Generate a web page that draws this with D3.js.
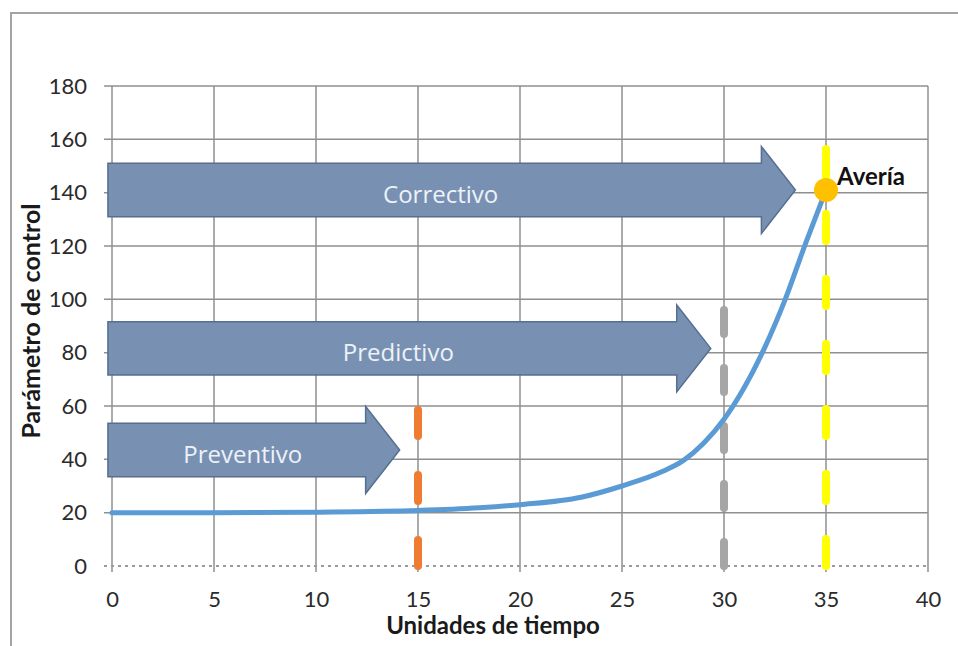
<!DOCTYPE html>
<html>
<head>
<meta charset="utf-8">
<script src="https://cdn.jsdelivr.net/npm/d3@7"></script>
<style>
  html, body { margin: 0; padding: 0; background: #ffffff; }
  svg { display: block; }
</style>
</head>
<body>
<svg id="chart" width="958" height="646"></svg>
<script>
// Axis ticks
const xTicks = [0, 5, 10, 15, 20, 25, 30, 35, 40];
const yTicks = [0, 20, 40, 60, 80, 100, 120, 140, 160, 180];

// Control parameter over time (smoothed curve)
const curveTime  = [0, 5, 10, 15, 18, 20, 23, 25, 27, 28, 29, 30, 31, 32, 33, 34, 35];
const curveValue = [20, 20, 20.2, 20.8, 21.8, 23, 25.8, 30, 35.5, 39.5, 46, 55, 67, 82, 100, 121, 141];

// Maintenance strategies: arrow start/tip times and level
const strategyNames  = ["Preventivo", "Predictivo", "Correctivo"];
const strategyStart  = [-0.2, -0.2, -0.2];
const strategyTip    = [14.1, 29.35, 33.5];
const strategyLevel  = [43.5, 81.6, 141];

// Intervention markers (vertical dashed lines)
const markerTime = [15, 30, 35];
const markerTop  = [60, 98, 162];

// Failure point
const failureTime = 35;
const failureValue = 141;
const failureLabel = "Avería";

const xTitle = "Unidades de tiempo";
const yTitle = "Parámetro de control";

const svg = d3.select("#chart");
const W = 958, H = 646;
const plot = { left: 112, right: 928, top: 86, bottom: 566 };

const x = d3.scaleLinear().domain([0, 40]).range([plot.left, plot.right]);
const y = d3.scaleLinear().domain([0, 180]).range([plot.bottom, plot.top]);

const gridColor = "#8f8f8f";
const tickFont = "Lato, 'Open Sans', sans-serif";

// Outer frame
svg.append("path")
  .attr("d", `M11,${H} L11,13 L${W},13`)
  .attr("fill", "none")
  .attr("stroke", "#a3a3a3")
  .attr("stroke-width", 2);

// Horizontal gridlines (with outward tick)
svg.append("g").selectAll("line")
  .data(yTicks.filter(d => d > 0))
  .join("line")
  .attr("x1", plot.left - 8).attr("x2", plot.right)
  .attr("y1", d => y(d)).attr("y2", d => y(d))
  .attr("stroke", gridColor).attr("stroke-width", 1.5);

// Vertical gridlines (with outward tick)
svg.append("g").selectAll("line")
  .data(xTicks)
  .join("line")
  .attr("x1", d => x(d)).attr("x2", d => x(d))
  .attr("y1", plot.top).attr("y2", plot.bottom + 6)
  .attr("stroke", gridColor).attr("stroke-width", 1.5);

// Zero baseline, dotted
svg.append("line")
  .attr("x1", plot.left - 8).attr("x2", plot.right)
  .attr("y1", y(0)).attr("y2", y(0))
  .attr("stroke", "#9a9a9a").attr("stroke-width", 2)
  .attr("stroke-dasharray", "3,4");

// Tick labels via d3 axes
const yAxis = d3.axisLeft(y).tickValues(yTicks).tickSize(0).tickPadding(25);
const gy = svg.append("g").attr("transform", `translate(${plot.left},0)`).call(yAxis);
gy.select(".domain").remove();
gy.selectAll("text")
  .attr("font-family", tickFont)
  .attr("font-size", 22).attr("fill", "#2b2b2b");

const xAxis = d3.axisBottom(x).tickValues(xTicks).tickSize(0).tickPadding(25);
const gx = svg.append("g").attr("transform", `translate(0,${plot.bottom})`).call(xAxis);
gx.select(".domain").remove();
gx.selectAll("text")
  .attr("font-family", tickFont)
  .attr("font-size", 22).attr("fill", "#2b2b2b");

// Axis titles
svg.append("text")
  .attr("x", 493).attr("y", 634)
  .attr("text-anchor", "middle")
  .attr("font-family", "Lato, sans-serif")
  .attr("font-weight", 700).attr("font-size", 24)
  .attr("fill", "#1a1a1a")
  .text(xTitle);

svg.append("text")
  .attr("transform", `translate(40,${(plot.top + plot.bottom) / 2 - 5}) rotate(-90)`)
  .attr("text-anchor", "middle")
  .attr("font-family", "Lato, sans-serif")
  .attr("font-weight", 700).attr("font-size", 25)
  .attr("fill", "#1a1a1a")
  .text(yTitle);

// Intervention markers
const markerColors = ["#ee7d31", "#a6a6a6", "#ffff00"];
const markerDash = ["26,39", "24,34", "27,38"];
svg.append("g").selectAll("line")
  .data(markerTime)
  .join("line")
  .attr("x1", d => x(d)).attr("x2", d => x(d))
  .attr("y1", y(0)).attr("y2", (d, i) => y(markerTop[i]))
  .attr("stroke", (d, i) => markerColors[i])
  .attr("stroke-width", 8)
  .attr("stroke-linecap", "round")
  .attr("stroke-dasharray", (d, i) => markerDash[i]);

// Control parameter curve
const points = curveTime.map((t, i) => [t, curveValue[i]]);
const line = d3.line()
  .x(d => x(d[0])).y(d => y(d[1]))
  .curve(d3.curveMonotoneX);
svg.append("path")
  .datum(points)
  .attr("d", line)
  .attr("fill", "none")
  .attr("stroke", "#5b9bd5")
  .attr("stroke-width", 5)
  .attr("stroke-linecap", "round");

// Failure point
svg.append("circle")
  .attr("cx", x(failureTime)).attr("cy", y(failureValue))
  .attr("r", 12)
  .attr("fill", "#ffc000");

svg.append("text")
  .attr("x", x(failureTime) + 11).attr("y", y(failureValue) - 5)
  .attr("font-family", "Lato, sans-serif")
  .attr("font-weight", 700).attr("font-size", 24)
  .attr("fill", "#111111")
  .text(failureLabel);

// Strategy arrows
const bodyHalf = y(0) - y(10);     // body half-height in px
const headHalf = y(0) - y(16.3);   // head half-height in px
const headLen = 34;

const arrows = svg.append("g");
strategyNames.forEach((name, i) => {
  const x0 = x(strategyStart[i]);
  const xt = x(strategyTip[i]);
  const xb = xt - headLen;
  const cy = y(strategyLevel[i]);
  const pts = [
    [x0, cy - bodyHalf], [xb, cy - bodyHalf], [xb, cy - headHalf],
    [xt, cy], [xb, cy + headHalf], [xb, cy + bodyHalf], [x0, cy + bodyHalf]
  ];
  arrows.append("path")
    .attr("d", "M" + pts.map(p => p.join(",")).join("L") + "Z")
    .attr("fill", "#7891b3")
    .attr("stroke", "#566f90")
    .attr("stroke-width", 1.5)
    .attr("stroke-linejoin", "miter");
  arrows.append("text")
    .attr("x", (x0 + xb) / 2 + 6)
    .attr("y", cy + 13)
    .attr("text-anchor", "middle")
    .attr("font-family", "'Open Sans', sans-serif")
    .attr("font-size", 24)
    .attr("fill", "#eef2f8")
    .text(name);
});
</script>
</body>
</html>
